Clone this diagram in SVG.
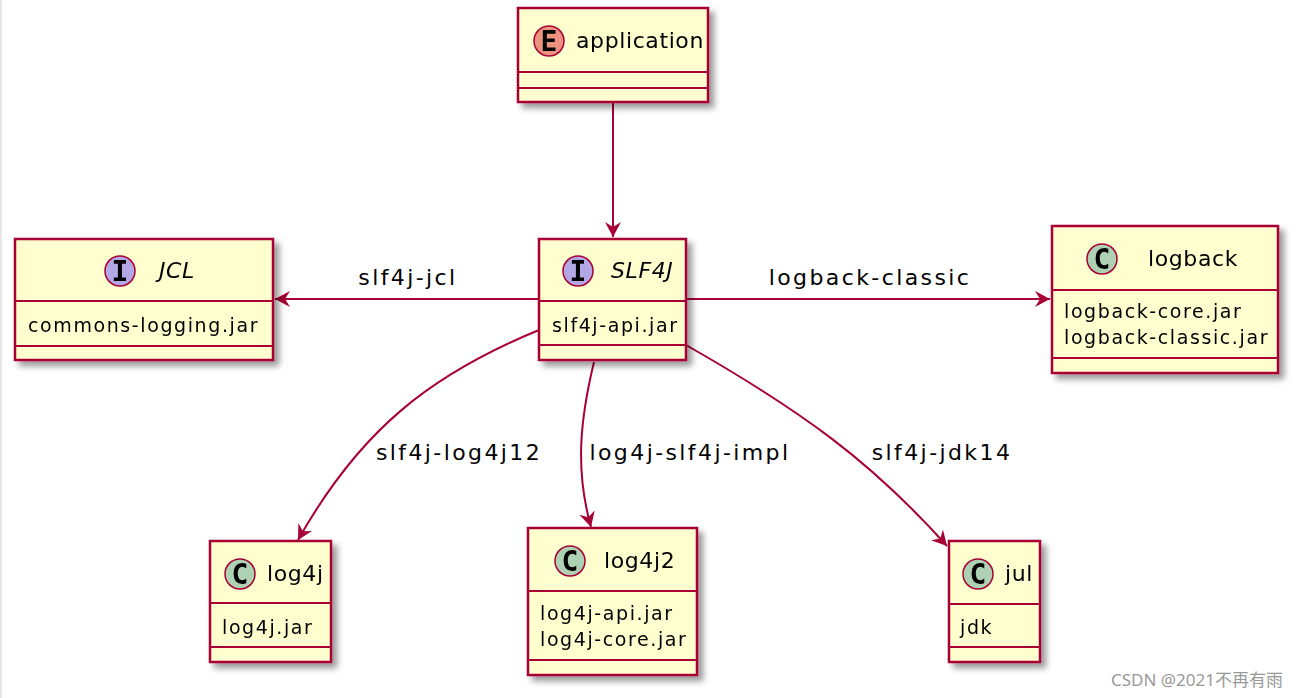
<svg xmlns="http://www.w3.org/2000/svg" width="1298" height="698" viewBox="0 0 1298 698">
<defs>
<filter id="sh" x="-10%" y="-10%" width="130%" height="130%"><feGaussianBlur in="SourceAlpha" stdDeviation="3"/><feOffset dx="5" dy="5"/><feComponentTransfer><feFuncA type="linear" slope="0.4"/></feComponentTransfer><feMerge><feMergeNode/><feMergeNode in="SourceGraphic"/></feMerge></filter>
<marker id="ah" viewBox="0 0 16 16" refX="15" refY="8" markerWidth="16" markerHeight="16" markerUnits="userSpaceOnUse" orient="auto"><path d="M0,0 L15,8 L0,16 L5,8 Z" fill="#A80036"/></marker>
</defs>
<style>
.box{fill:#FEFECE;stroke:#A80036;stroke-width:2.5}
.ln{stroke:#A80036;stroke-width:2}
.t{font-family:"DejaVu Sans","Noto Sans",sans-serif;fill:#000}
.n{font-size:22px;letter-spacing:0.6px}
.m{font-size:19px;letter-spacing:1.6px}
.l{font-size:22px;letter-spacing:2.4px}
.c{stroke:#A80036;stroke-width:2;fill:none}
.ci{stroke:#A80036;stroke-width:1.5}
.g{font-family:"DejaVu Sans Mono",monospace;font-weight:bold;font-size:28px;text-anchor:middle}
</style>
<rect x="0" y="0" width="1298" height="698" fill="#fff"/>
<rect x="0" y="0" width="2" height="698" fill="#e6e6e6"/>
<g id="connectors">
<line class="c" x1="613" y1="102" x2="613" y2="237" marker-end="url(#ah)"/>
<line class="c" x1="539" y1="299" x2="275" y2="299" marker-end="url(#ah)"/>
<line class="c" x1="686" y1="299" x2="1050" y2="299" marker-end="url(#ah)"/>
<path class="c" d="M539,330 C430,375 360,430 298,540" marker-end="url(#ah)"/>
<path class="c" d="M594,362 C580,420 575,470 591,527" marker-end="url(#ah)"/>
<path class="c" d="M686,345 C800,410 870,460 947,546" marker-end="url(#ah)"/>
<text class="t l" x="408" y="285" text-anchor="middle">slf4j-jcl</text>
<text class="t l" x="870" y="285" text-anchor="middle">logback-classic</text>
<text class="t l" x="459" y="460" text-anchor="middle">slf4j-log4j12</text>
<text class="t l" x="690" y="460" text-anchor="middle">log4j-slf4j-impl</text>
<text class="t l" x="942" y="460" text-anchor="middle">slf4j-jdk14</text>
</g>
<g id="application" filter="url(#sh)">
<rect class="box" x="518" y="8" width="190" height="94"/>
<line class="ln" x1="518" y1="72" x2="708" y2="72"/><line class="ln" x1="518" y1="88" x2="708" y2="88"/>
<circle class="ci" cx="549" cy="41" r="15" fill="#EB937F"/><text class="g" x="549" y="51">E</text>
<text class="t n" x="576" y="48">application</text>
</g>
<g id="JCL" filter="url(#sh)">
<rect class="box" x="15" y="239" width="258" height="121"/>
<line class="ln" x1="15" y1="301" x2="273" y2="301"/><line class="ln" x1="15" y1="346" x2="273" y2="346"/>
<circle class="ci" cx="120" cy="271" r="15" fill="#B4A7E5"/><text class="g" x="120" y="281">I</text>
<text class="t n" x="159" y="278" font-style="italic">JCL</text>
<text class="t m" x="28" y="332">commons-logging.jar</text>
</g>
<g id="SLF4J" filter="url(#sh)">
<rect class="box" x="539" y="239" width="147" height="121"/>
<line class="ln" x1="539" y1="301" x2="686" y2="301"/><line class="ln" x1="539" y1="345" x2="686" y2="345"/>
<circle class="ci" cx="578" cy="271" r="15" fill="#B4A7E5"/><text class="g" x="578" y="281">I</text>
<text class="t n" x="611" y="278" font-style="italic">SLF4J</text>
<text class="t m" x="552" y="332">slf4j-api.jar</text>
</g>
<g id="logback" filter="url(#sh)">
<rect class="box" x="1052" y="226" width="226" height="147"/>
<line class="ln" x1="1052" y1="290" x2="1278" y2="290"/><line class="ln" x1="1052" y1="358" x2="1278" y2="358"/>
<circle class="ci" cx="1102" cy="259" r="15" fill="#ADD1B2"/><text class="g" x="1102" y="269">C</text>
<text class="t n" x="1148" y="266">logback</text>
<text class="t m" x="1064" y="318">logback-core.jar</text>
<text class="t m" x="1064" y="344">logback-classic.jar</text>
</g>
<g id="log4j" filter="url(#sh)">
<rect class="box" x="210" y="541" width="121" height="121"/>
<line class="ln" x1="210" y1="603" x2="331" y2="603"/><line class="ln" x1="210" y1="647" x2="331" y2="647"/>
<circle class="ci" cx="240" cy="574" r="15" fill="#ADD1B2"/><text class="g" x="240" y="584">C</text>
<text class="t n" x="267" y="581">log4j</text>
<text class="t m" x="222" y="634">log4j.jar</text>
</g>
<g id="log4j2" filter="url(#sh)">
<rect class="box" x="528" y="528" width="169" height="147"/>
<line class="ln" x1="528" y1="591" x2="697" y2="591"/><line class="ln" x1="528" y1="660" x2="697" y2="660"/>
<circle class="ci" cx="570" cy="561" r="15" fill="#ADD1B2"/><text class="g" x="570" y="571">C</text>
<text class="t n" x="604" y="568">log4j2</text>
<text class="t m" x="540" y="620">log4j-api.jar</text>
<text class="t m" x="540" y="646">log4j-core.jar</text>
</g>
<g id="jul" filter="url(#sh)">
<rect class="box" x="949" y="541" width="91" height="121"/>
<line class="ln" x1="949" y1="604" x2="1040" y2="604"/><line class="ln" x1="949" y1="647" x2="1040" y2="647"/>
<circle class="ci" cx="978" cy="574" r="15" fill="#ADD1B2"/><text class="g" x="978" y="584">C</text>
<text class="t n" x="1005" y="581">jul</text>
<text class="t m" x="960" y="634">jdk</text>
</g>
<text x="1283" y="686" text-anchor="end" font-family="'Noto Sans','Noto Sans CJK SC',sans-serif" font-size="17" fill="#999">CSDN @2021不再有雨</text>
</svg>
